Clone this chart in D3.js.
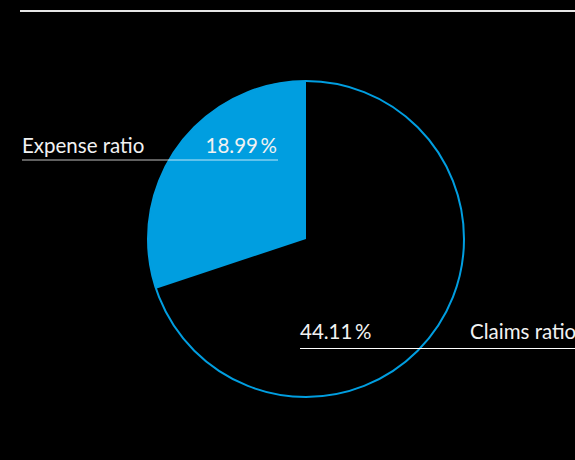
<!DOCTYPE html>
<html>
<head>
<meta charset="utf-8">
<script src="https://cdn.jsdelivr.net/npm/d3@7"></script>
<style>
  html, body { margin: 0; padding: 0; background: #000; }
  svg { display: block; }
</style>
</head>
<body>
<svg id="chart" width="575" height="460"></svg>
<script>
// Datos
const categories = ["Claims ratio", "Expense ratio"];
const values = [44.11, 18.99];
const valueLabels = ["44.11\u2009%", "18.99\u2009%"];

const W = 575, H = 460;
const BLUE = "#009ee0";
const cx = 306, cy = 239, R = 158;

const svg = d3.select("#chart");
svg.append("rect").attr("width", W).attr("height", H).attr("fill", "#000");

// linea superior
svg.append("line")
  .attr("x1", 20).attr("x2", W).attr("y1", 11).attr("y2", 11)
  .attr("stroke", "#e6e6e6").attr("stroke-width", 2);

const pie = d3.pie().sort(null).value(d => d);
const arcs = pie(values);
const arc = d3.arc().innerRadius(0).outerRadius(R);

const g = svg.append("g").attr("transform", `translate(${cx},${cy})`);

g.selectAll("path.slice")
  .data(arcs)
  .enter().append("path")
  .attr("class", "slice")
  .attr("d", arc)
  .attr("fill", (d, i) => i === 1 ? BLUE : "#000");

// contorno
g.append("circle")
  .attr("r", R)
  .attr("fill", "none")
  .attr("stroke", BLUE)
  .attr("stroke-width", 2);

// etiquetas
const font = "Lato, 'Open Sans', sans-serif";
const labels = [
  { name: categories[1], value: valueLabels[1], x1: 22, x2: 278, y: 160, ty: 153, op: 0.75, nameX: 22, valX: 277, valAnchor: "end" },
  { name: categories[0], value: valueLabels[0], x1: 300, x2: W, y: 348.5, ty: 339, op: 1, nameX: 470, valX: 300, valAnchor: "start" }
];

const lab = svg.selectAll("g.label").data(labels).enter().append("g").attr("class", "label");

lab.append("line")
  .attr("x1", d => d.x1).attr("x2", d => d.x2)
  .attr("y1", d => d.y).attr("y2", d => d.y)
  .attr("stroke", "#fff").attr("stroke-opacity", d => d.op).attr("stroke-width", 1);

lab.append("text")
  .attr("x", d => d.nameX).attr("y", d => d.ty)
  .attr("fill", "#f2f2f2")
  .style("font-family", font).style("font-size", "20.5px")
  .text(d => d.name);

lab.append("text")
  .attr("x", d => d.valX).attr("y", d => d.ty)
  .attr("text-anchor", d => d.valAnchor)
  .attr("fill", "#f2f2f2")
  .style("font-family", font).style("font-size", "20.5px")
  .text(d => d.value);
</script>
</body>
</html>
